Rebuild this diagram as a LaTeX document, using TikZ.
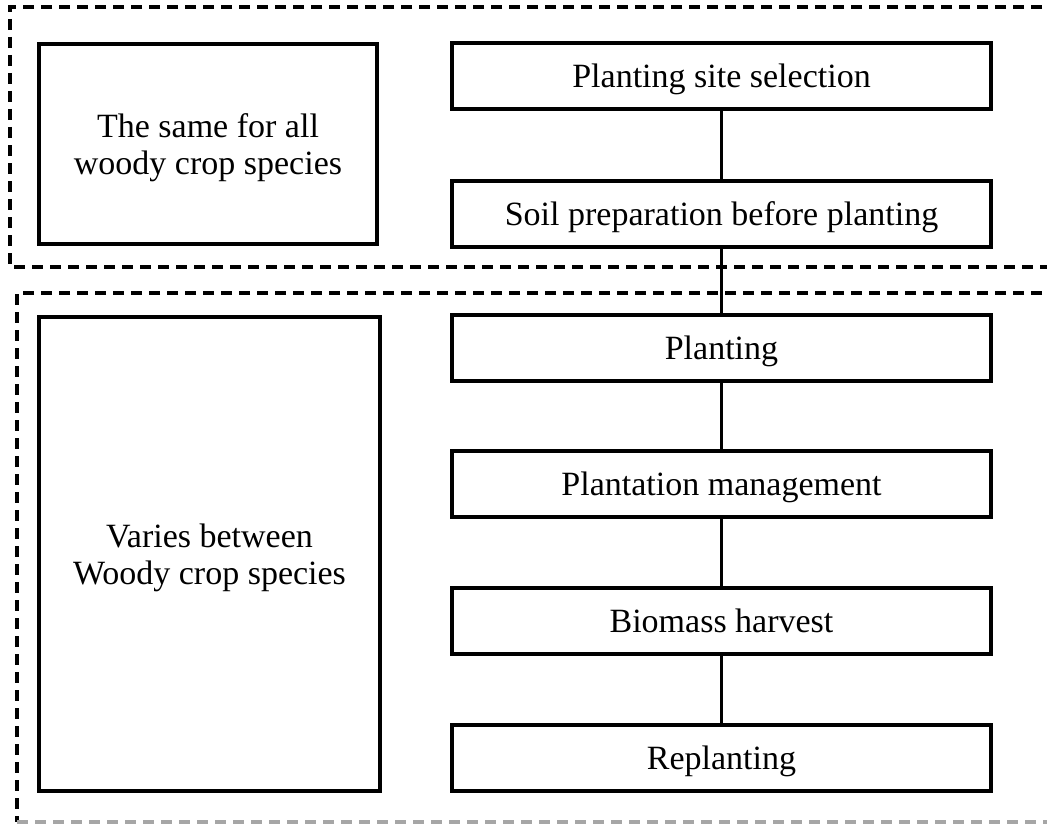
\documentclass[tikz,border=0pt]{standalone}
\usepackage{fontspec}
\setmainfont{Liberation Serif}
\begin{document}
\begin{tikzpicture}[x=1pt,y=-1pt,
  stagebox/.style={draw=black, line width=4pt, fill=white, minimum width=539pt, minimum height=66pt, inner sep=0pt, text height=23pt, text depth=0pt, font=\fontsize{34}{37}\selectfont},
  sidebox/.style={draw=black, line width=4pt, fill=white, inner sep=0pt, align=center, text depth=0pt, font=\fontsize{34}{37}\selectfont},
  groupline/.style={draw=black, line width=4pt, dash pattern=on 11pt off 7pt},
  link/.style={draw=black, line width=3pt}]
\useasboundingbox (0,0) rectangle (1047,824);
\clip (0,0) rectangle (1047,824);
\fill[white] (0,0) rectangle (1047,824);
% group frames
\draw[groupline] (1060,7) -- (10,7) -- (10,267) -- (1060,267);
\draw[groupline] (1060,293) -- (17,293) -- (17,822);
\draw[groupline, draw=black!35] (17,822) -- (1060,822);
% side boxes
\node[sidebox, minimum width=338pt, minimum height=200pt] (same) at (208,144) {The same for all\\woody crop species};
\node[sidebox, minimum width=341pt, minimum height=474pt] (varies) at (209.5,554) {Varies between\\Woody crop species};
% stage boxes
\node[stagebox] (s1) at (721.5,76.5) {Planting site selection};
\node[stagebox] (s2) at (721.5,213.5) {Soil preparation before planting};
\node[stagebox] (s3) at (721.5,347.5) {Planting};
\node[stagebox] (s4) at (721.5,484) {Plantation management};
\node[stagebox] (s5) at (721.5,620.5) {Biomass harvest};
\node[stagebox] (s6) at (721.5,757.5) {Replanting};
% connectors
\draw[link] (s1.south) -- (s2.north);
\draw[link] (s2.south) -- (s3.north);
\draw[link] (s3.south) -- (s4.north);
\draw[link] (s4.south) -- (s5.north);
\draw[link] (s5.south) -- (s6.north);
\end{tikzpicture}
\end{document}
